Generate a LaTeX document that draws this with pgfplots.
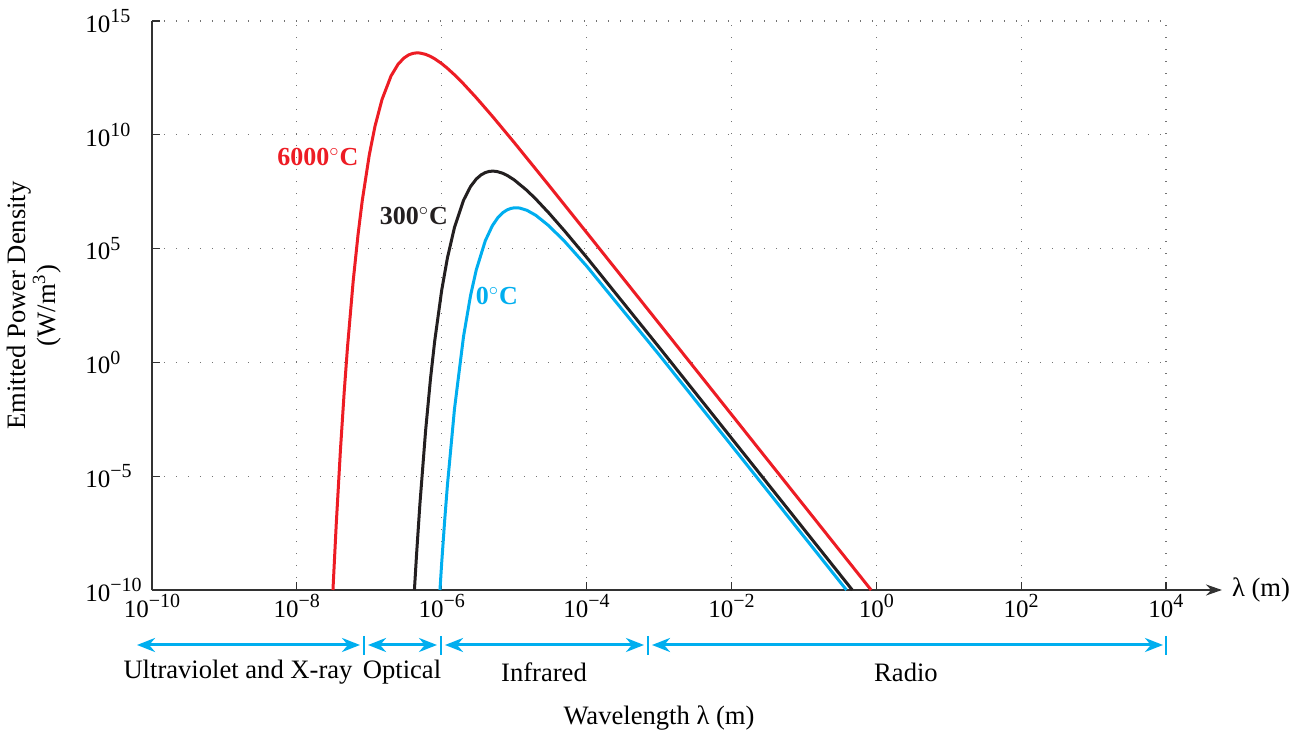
\documentclass[border=0pt]{standalone}
\usepackage{fontspec}
\setmainfont{Liberation Serif}
\usepackage{pgfplots}
\pgfplotsset{compat=1.18}
\usetikzlibrary{arrows.meta}
\definecolor{cred}{RGB}{237,28,36}
\definecolor{ccyan}{RGB}{0,174,239}
\definecolor{cblack}{RGB}{35,31,32}
\definecolor{caxis}{RGB}{50,50,50}
\newcommand{\tsup}[1]{\raisebox{4.8pt}{\fontsize{10}{10}\selectfont #1}}
\begin{document}
\begin{tikzpicture}
\begin{axis}[
  xmode=log, ymode=log,
  scale only axis, width=507pt, height=284.5pt,
  xmin=1e-10, xmax=1e4, ymin=1e-10, ymax=1e15,
  axis x line=bottom, axis y line=left,
  axis line style={caxis, line width=1.1pt},
  x axis line style={-{Stealth[length=8pt,width=5.5pt]}, shorten >=-28pt},
  y axis line style={-},
  xtick={1e-10,1e-8,1e-6,1e-4,1e-2,1,1e2,1e4},
  xticklabels={10\tsup{−10},10\tsup{−8},10\tsup{−6},10\tsup{−4},10\tsup{−2},10\tsup{0},10\tsup{2},10\tsup{4}},
  ytick={1e-10,1e-5,1,1e5,1e10,1e15},
  yticklabels={10\tsup{−10},10\tsup{−5},10\tsup{0},10\tsup{5},10\tsup{10},10\tsup{15}},
  minor x tick num=11, minor y tick num=4,
  tick align=inside, major tick length=4pt, minor tick length=1.5pt,
  tick style={caxis, line width=0.6pt},
  grid=major, major grid style={black!55, line width=0.6pt, dash pattern=on 0.6pt off 5.4pt},
  ticklabel style={font=\fontsize{12.5}{14}\selectfont, inner sep=0pt},
  xticklabel style={anchor=north, yshift=-2pt},
  yticklabel style={anchor=west, xshift=-33.5pt},
  xlabel={Wavelength λ (m)},
  xlabel style={at={(axis description cs:0.5,-0.225)}, anchor=center, font=\fontsize{13.3}{16}\selectfont},
  ylabel={Emitted Power Density\\(W/m\textsuperscript{3})},
  ylabel style={at={(axis description cs:-0.1164,0.5)}, anchor=center, align=center, font=\fontsize{13.3}{11.5}\selectfont},
  every axis plot/.append style={line width=1.5pt},
]
% 6000 C
\addplot[cred] coordinates {
(3.152e-8,1e-10) (3.2e-8,2.64e-10) (3.5e-8,7.87e-8) (4e-8,1.46e-4) (4.5e-8,4.73e-2)
(5e-8,4.56) (6e-8,3.83e3) (7e-8,4.17e5) (8e-8,1.29e7) (1e-7,1.30e9) (1.2e-7,2.39e10)
(1.5e-7,3.59e11) (2e-7,3.89e12) (2.5e-7,1.26e13) (3e-7,2.34e13) (3.5e-7,3.24e13)
(4e-7,3.78e13) (4.5e-7,3.97e13) (5e-7,3.92e13) (6e-7,3.42e13) (7e-7,2.78e13)
(8e-7,2.19e13) (1e-6,1.34e13) (1.2e-6,8.31e12) (1.5e-6,4.34e12) (2e-6,1.73e12)
(3e-6,4.27e11) (5e-6,6.55e10) (1e-5,4.62e9) (3e-5,6.17e7) (1e-4,5.13e5)
(1e-3,51.9) (1e-2,5.19e-3) (1e-1,5.19e-7) (0.849,1e-10)
};
% 300 C
\addplot[cblack] coordinates {
(4.2e-7,1e-10) (4.5e-7,3.83e-9) (5e-7,5.98e-7) (6e-7,1.04e-3) (7e-7,0.189)
(8e-7,8.57) (1e-6,1.49e3) (1.2e-6,3.94e4) (1.5e-6,8.45e5) (2e-6,1.32e7)
(2.5e-6,5.31e7) (3e-6,1.14e8) (3.5e-6,1.74e8) (4e-6,2.19e8) (4.5e-6,2.45e8)
(5e-6,2.53e8) (5.5e-6,2.49e8) (6e-6,2.37e8) (7e-6,2.02e8) (8e-6,1.65e8)
(1e-5,1.05e8) (1.5e-5,3.62e7) (2e-5,1.48e7) (3e-5,3.74e6) (5e-5,5.84e5)
(1e-4,4.17e4) (1e-3,4.69) (1e-2,4.74e-4) (1e-1,4.74e-8) (0.4667,1e-10)
};
% 0 C
\addplot[ccyan] coordinates {
(9.46e-7,1e-10) (1e-6,1.58e-9) (1.1e-6,1.18e-7) (1.2e-6,4.14e-6) (1.5e-6,8.80e-3)
(2e-6,13.6) (2.5e-6,862) (3e-6,1.16e4) (4e-6,2.22e5) (5e-6,1.01e6)
(6e-6,2.36e6) (7e-6,3.82e6) (8e-6,5.03e6) (9e-6,5.81e6) (1e-5,6.17e6)
(1.1e-5,6.21e6) (1.2e-5,6.01e6) (1.5e-5,4.83e6) (2e-5,2.88e6) (3e-5,1.02e6)
(5e-5,2.04e5) (1e-4,1.72e4) (1e-3,2.20) (1e-2,2.26e-4) (1e-1,2.26e-8) (0.3878,1e-10)
};
\end{axis}
\begin{scope}[shift={(current axis.south west)}]
  \tikzset{rarrow/.style={ccyan, line width=1.5pt, {Stealth[length=9pt,width=7pt]}-{Stealth[length=9pt,width=7pt]}},
           rtick/.style={ccyan, line width=1pt}}
  \draw[rarrow] (-7.5pt,-27.5pt) -- (104pt,-27.5pt);
  \draw[rarrow] (108pt,-27.5pt) -- (142.5pt,-27.5pt);
  \draw[rarrow] (146.5pt,-27.5pt) -- (246pt,-27.5pt);
  \draw[rarrow] (250pt,-27.5pt) -- (505.5pt,-27.5pt);
  \foreach \xx in {106pt,144.5pt,248pt,507pt} \draw[rtick] (\xx,-23pt) -- (\xx,-32.5pt);
  \begin{scope}[font=\fontsize{13.3}{16}\selectfont]
  \node at (43pt,-41pt) {Ultraviolet and X-ray};
  \node at (125pt,-41pt) {Optical};
  \node at (196pt,-41pt) {Infrared};
  \node at (377pt,-41pt) {Radio};
  \node at (554.5pt,0pt) {λ (m)};
  \end{scope}
  \begin{scope}[font=\fontsize{13}{16}\selectfont\bfseries]
  \node[text=cred] at (83pt,216.5pt) {6000$^{\circ}$C};
  \node[text=cblack] at (131pt,187pt) {300$^{\circ}$C};
  \node[text=ccyan] at (172.5pt,147pt) {0$^{\circ}$C};
  \end{scope}
  \path (-76pt,-70.5pt) rectangle (579.5pt,295pt);
\end{scope}
\end{tikzpicture}
\end{document}
